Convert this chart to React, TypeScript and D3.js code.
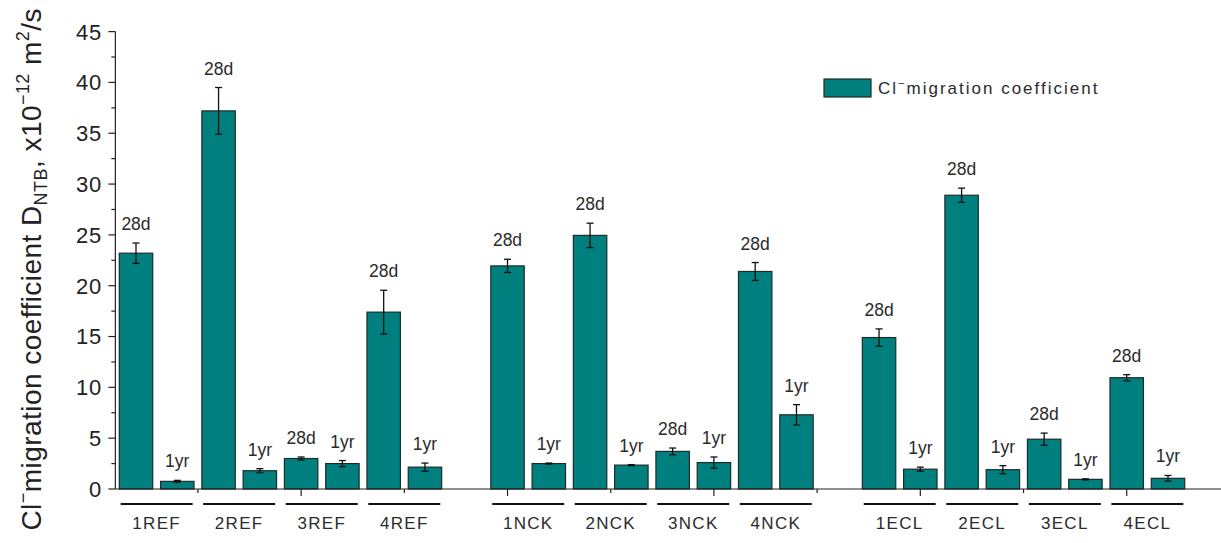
import React from "react";
import * as d3 from "d3";

// Mix designs, grouped by binder family (REF / NCK / ECL)
const groups = ["1REF", "2REF", "3REF", "4REF", "1NCK", "2NCK", "3NCK", "4NCK", "1ECL", "2ECL", "3ECL", "4ECL"];
// Migration coefficient at 28 days and at 1 year, x10^-12 m²/s
const d28 = [23.2, 37.2, 3.0, 17.4, 21.95, 24.95, 3.7, 21.4, 14.9, 28.9, 4.9, 10.95];
const d28Err = [1.0, 2.3, 0.15, 2.15, 0.65, 1.2, 0.33, 0.88, 0.85, 0.7, 0.6, 0.3];
const yr1 = [0.75, 1.8, 2.5, 2.15, 2.5, 2.35, 2.6, 7.3, 1.95, 1.9, 0.95, 1.05];
const yr1Err = [0.1, 0.2, 0.3, 0.4, 0.05, 0.05, 0.55, 1.0, 0.2, 0.4, 0.05, 0.28];
const ageLabels = ["28d", "1yr"];
const yTicks = [0, 5, 10, 15, 20, 25, 30, 35, 40, 45];
const yMinor = [2.5, 7.5, 12.5, 17.5, 22.5, 27.5, 32.5, 37.5, 42.5];
const xTicks = [5, 10, 15, 20, 25];
const xMinor = [2.5, 7.5, 12.5, 17.5, 22.5];

const W = 1221;
const H = 543;
const FILL = "#007f7f";
const STROKE = "#1e2b2b";
const TEXT = "#2b2b2b";
const FONT = "'Liberation Sans', Arial, sans-serif";

// slot position along the numeric x axis: 4 pairs per family, one empty slot between families
const slotOf = (g: number, s: number) => 1 + Math.floor(g / 4) * 9 + (g % 4) * 2 + s;

export default function App() {
  const x = d3.scaleLinear().domain([1, 26]).range([136, 1168]);
  const y = d3.scaleLinear().domain([0, 45]).range([489, 31.6]);
  const bw = x(1.81) - x(1);
  const x0 = x(0.5);

  const bars: { g: number; s: number; v: number; e: number }[] = [];
  groups.forEach((_, g) => {
    bars.push({ g, s: 0, v: d28[g], e: d28Err[g] });
    bars.push({ g, s: 1, v: yr1[g], e: yr1Err[g] });
  });

  return (
    <svg
      width={W}
      height={H}
      style={{ position: "absolute", left: 0, top: 0, background: "#fff" }}
      fontFamily={FONT}
    >
      {/* bars with error bars and age labels */}
      {bars.map((b, i) => {
        const cx = x(slotOf(b.g, b.s));
        const top = y(b.v);
        const eTop = y(b.v + b.e);
        const eBot = y(b.v - b.e);
        return (
          <g key={i}>
            <rect
              x={cx - bw / 2}
              y={top}
              width={bw}
              height={y(0) - top}
              fill={FILL}
              stroke={STROKE}
              strokeWidth={1.2}
            />
            <line x1={cx} x2={cx} y1={eTop} y2={eBot} stroke="#111" strokeWidth={1.3} />
            <line x1={cx - 3.5} x2={cx + 3.5} y1={eTop} y2={eTop} stroke="#111" strokeWidth={1.3} />
            <line x1={cx - 3.5} x2={cx + 3.5} y1={eBot} y2={eBot} stroke="#111" strokeWidth={1.3} />
            <text x={cx} y={eTop - 13} textAnchor="middle" fontSize={17.5} fill={TEXT}>
              {ageLabels[b.s]}
            </text>
          </g>
        );
      })}

      {/* y axis */}
      <line x1={x0} x2={x0} y1={y(0)} y2={y(45)} stroke="#222" strokeWidth={1.2} />
      {yTicks.map((t) => (
        <g key={"yt" + t}>
          <line x1={x0 - 7} x2={x0} y1={y(t)} y2={y(t)} stroke="#222" strokeWidth={1.2} />
          <text
            x={x0 - 13}
            y={y(t)}
            dy="0.36em"
            textAnchor="end"
            fontSize={22}
            letterSpacing={1}
            fill="#222"
          >
            {t}
          </text>
        </g>
      ))}
      {yMinor.map((t) => (
        <line key={"ym" + t} x1={x0 - 4} x2={x0} y1={y(t)} y2={y(t)} stroke="#222" strokeWidth={1.2} />
      ))}

      {/* x axis */}
      <line x1={x0} x2={W} y1={y(0)} y2={y(0)} stroke="#222" strokeWidth={1.2} />
      {xTicks.map((t) => (
        <line key={"xt" + t} x1={x(t)} x2={x(t)} y1={y(0)} y2={y(0) + 7} stroke="#222" strokeWidth={1.2} />
      ))}
      {xMinor.map((t) => (
        <line key={"xm" + t} x1={x(t)} x2={x(t)} y1={y(0)} y2={y(0) + 4} stroke="#222" strokeWidth={1.2} />
      ))}

      {/* group brackets and names */}
      {groups.map((name, g) => {
        const c = (x(slotOf(g, 0)) + x(slotOf(g, 1))) / 2;
        return (
          <g key={name}>
            <line x1={c - 36} x2={c + 36} y1={504} y2={504} stroke="#111" strokeWidth={2} />
            <text x={c} y={529} textAnchor="middle" fontSize={17} letterSpacing={1.3} fill={TEXT}>
              {name}
            </text>
          </g>
        );
      })}

      {/* legend */}
      <rect x={824} y={79} width={47} height={18} fill={FILL} stroke={STROKE} strokeWidth={1.2} />
      <text x={878} y={94} fontSize={17} letterSpacing={2} fill={TEXT}>
        <tspan>Cl</tspan>
        <tspan fontSize={11} dy={-7}>−</tspan>
        <tspan dy={7}>migration coefficient</tspan>
      </text>

      {/* y axis title */}
      <text
        transform="rotate(-90)"
        x={-8}
        y={41}
        textAnchor="end"
        fontSize={28}
        letterSpacing={0.45}
        fill="#222"
      >
        <tspan>Cl</tspan>
        <tspan fontSize={18} dy={-12}>−</tspan>
        <tspan dy={12}>migration coefficient D</tspan>
        <tspan fontSize={18} dy={6}>NTB</tspan>
        <tspan dy={-6}>, x10</tspan>
        <tspan fontSize={18} dy={-12}>−12</tspan>
        <tspan dy={12}> m</tspan>
        <tspan fontSize={18} dy={-12}>2</tspan>
        <tspan dy={12}>/s</tspan>
      </text>
    </svg>
  );
}
